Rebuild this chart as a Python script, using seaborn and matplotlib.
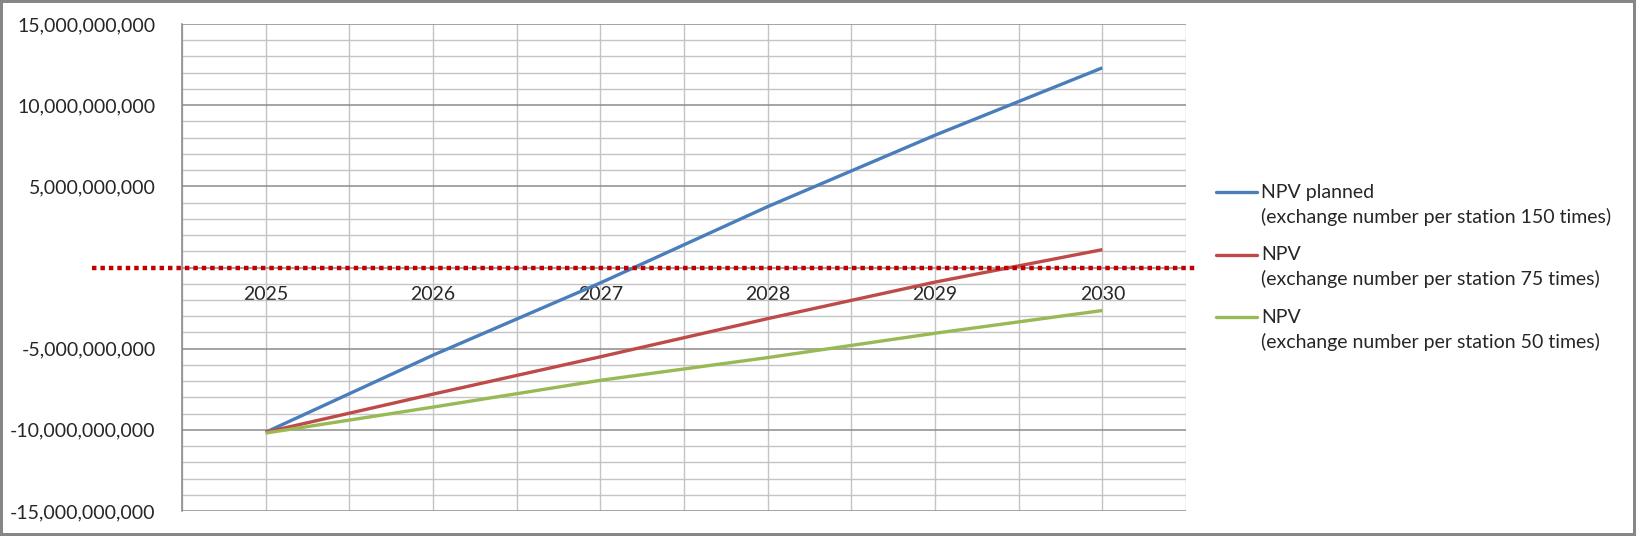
import pandas as pd
import matplotlib
matplotlib.use("Agg")
from matplotlib import pyplot as plt
from matplotlib.lines import Line2D
from matplotlib.ticker import FuncFormatter, MultipleLocator
import seaborn as sns

years = [2025, 2026, 2027, 2028, 2029, 2030]
npv_150 = [-10.15e9, -5.40e9, -0.95e9, 3.75e9, 8.15e9, 12.30e9]
npv_75 = [-10.15e9, -7.80e9, -5.50e9, -3.15e9, -0.90e9, 1.10e9]
npv_50 = [-10.20e9, -8.60e9, -6.95e9, -5.55e9, -4.05e9, -2.65e9]

series_names = [
    "NPV planned\n(exchange number per station 150 times)",
    "NPV\n(exchange number per station 75 times)",
    "NPV\n(exchange number per station 50 times)",
]
colors = ["#4a7ebb", "#be4b48", "#98b954"]

df = pd.concat([
    pd.DataFrame({"year": years, "npv": vals, "series": name})
    for name, vals in zip(series_names, [npv_150, npv_75, npv_50])
])

sns.set_style("white")
plt.rcParams["font.family"] = ["Lato", "DejaVu Sans"]
FS = 14

fig = plt.figure(figsize=(16.36, 5.36), dpi=100)
fig.patch.set_edgecolor("#868686")
fig.patch.set_linewidth(3)
ax = fig.add_axes([182 / 1636, 1 - 511 / 536, 1004 / 1636, 487 / 536])

# grid
ax.set_xlim(2024.5, 2030.5)
ax.set_ylim(-15e9, 15e9)
ax.yaxis.set_major_locator(MultipleLocator(5e9))
ax.yaxis.set_minor_locator(MultipleLocator(1e9))
ax.xaxis.set_minor_locator(MultipleLocator(0.5))
ax.set_xticks(years, [str(y) for y in years])
ax.grid(which="major", axis="y", color="#8c8c8c", lw=1.1)
ax.grid(which="minor", axis="y", color="#c4c4c4", lw=1.0)
ax.grid(which="both", axis="x", color="#c4c4c4", lw=1.0)
ax.set_axisbelow(True)

sns.lineplot(data=df, x="year", y="npv", hue="series", palette=colors,
             lw=2.4, legend=False, ax=ax, solid_capstyle="butt")

# zero line, dotted red, runs past the plot area
ax.axhline(0, xmin=-0.09, xmax=1.01, color="#c00000", lw=3.2,
           ls=(0, (1.0, 0.9)), dash_capstyle="butt", clip_on=False, zorder=5)

for s in ["top", "right", "bottom"]:
    ax.spines[s].set_visible(False)
ax.spines["left"].set_color("#868686")
ax.spines["left"].set_linewidth(1.1)

ax.yaxis.set_major_formatter(FuncFormatter(lambda v, p: "" if v == 0 else f"{v:,.0f}"))
ax.tick_params(axis="y", which="major", length=6, color="#868686", pad=13, labelsize=FS)
ax.tick_params(axis="y", which="minor", length=0)
ax.tick_params(axis="x", which="both", length=0, labelsize=FS)
ax.xaxis.set_ticks_position("bottom")
ax.spines["bottom"].set_position(("data", 0))
ax.tick_params(axis="x", pad=13)
ax.set_xlabel("")
ax.set_ylabel("")

# legend to the right
for i, (name, c) in enumerate(zip(series_names, colors)):
    yc = 1 - (192.3 + i * 62.4) / 536
    fig.add_artist(Line2D([1216 / 1636, 1257 / 1636], [yc, yc], color=c, lw=2.4,
                          transform=fig.transFigure))
    first, second = name.split("\n")
    fig.text(1261 / 1636, yc, first, fontsize=FS, va="center", ha="left")
    fig.text(1261 / 1636, yc - 24.5 / 536, second, fontsize=FS, va="center", ha="left")

fig.savefig("out.png", dpi=100)
